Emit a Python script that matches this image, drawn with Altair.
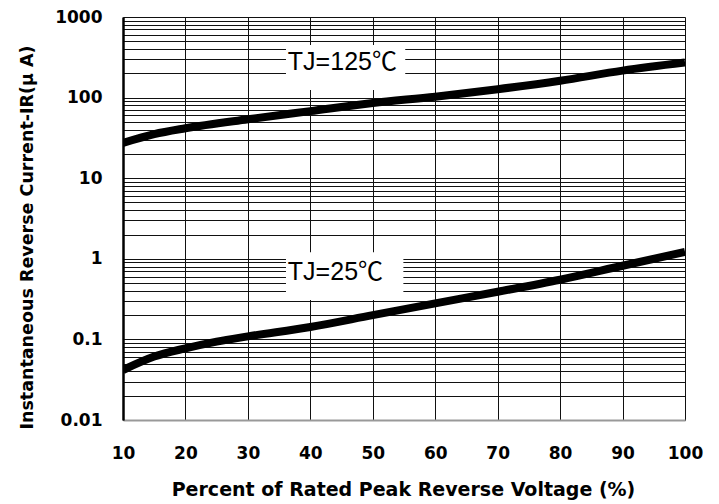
import altair as alt
import pandas as pd

# ---- data ----
volt_125 = [10, 15, 20, 30, 40, 50, 60, 70, 80, 90, 100]
ir_125 = [27.4, 35.2, 41.6, 53.8, 68, 85.7, 102.6, 127, 162, 216, 272]
volt_25 = [10, 15, 20, 25, 30, 40, 50, 60, 70, 80, 90, 100]
ir_25 = [0.0417, 0.0612, 0.0775, 0.094, 0.109, 0.1425, 0.2, 0.28, 0.39, 0.55, 0.82, 1.22]

x_ticks = [10, 20, 30, 40, 50, 60, 70, 80, 90, 100]
decades = [0.01, 0.1, 1, 10, 100]
mults = [1, 2, 3, 4, 5, 6, 7, 8, 9]
y_ticks = [round(d * m, 6) for d in decades for m in mults] + [1000]

labels = ["TJ=125℃", "TJ=25℃"]
label_x = [36.4, 36.4]
label_y = [220, 0.546]
box_x = [36.1, 36.1]
box_x2 = [55.2, 54.9]
box_y = [124, 0.308]
box_y2 = [450, 1.21]

curves = pd.DataFrame({
    "x": volt_125 + volt_25,
    "y": ir_125 + ir_25,
    "s": ["125"] * len(volt_125) + ["25"] * len(volt_25),
})
boxes = pd.DataFrame({"x": box_x, "x2": box_x2, "y": box_y, "y2": box_y2})
texts = pd.DataFrame({"x": label_x, "y": label_y, "t": labels})

BOLD = "DejaVu Sans"

xscale = alt.Scale(domain=[10, 100], nice=False, zero=False)
yscale = alt.Scale(type="log", domain=[0.01, 1000], nice=False)

xaxis = alt.Axis(
    values=x_ticks, grid=True, gridColor="#111", gridWidth=1,
    ticks=False, tickSize=0, domain=True, domainColor="#999", domainWidth=2,
    labelFont=BOLD, labelFontWeight="bold", labelFontSize=17, labelColor="#000",
    labelBaseline="alphabetic", labelPadding=38, labelFlush=False, labelOverlap=False,
    title="Percent of Rated Peak Reverse Voltage (%)",
    titleFont=BOLD, titleFontWeight="bold", titleFontSize=19, titleColor="#000",
    titleX=280, titleY=75, titleBaseline="alphabetic", titleAlign="center",
)
yaxis = alt.Axis(
    values=y_ticks, grid=True, gridColor="#111", gridWidth=1,
    ticks=False, tickSize=0, domain=True, domainColor="#000", domainWidth=2.5,
    labelExpr="indexof([0.01,0.1,1,10,100,1000], datum.value) >= 0 ? format(datum.value, '~g') : ''",
    labelFont=BOLD, labelFontWeight="bold", labelFontSize=17, labelColor="#000",
    labelPadding=21, labelFlush=False, labelOverlap=False, labelBaseline="middle",
    title="Instantaneous Reverse Current-IR(μ A)",
    titleFont=BOLD, titleFontWeight="bold", titleFontSize=17.5, titleColor="#000",
    titleX=-91, titleY=220, titleBaseline="alphabetic", titleAlign="center", titleAngle=270,
)

X = alt.X("x:Q", scale=xscale, axis=xaxis)
Y = alt.Y("y:Q", scale=yscale, axis=yaxis)

lines = alt.Chart(curves).mark_line(
    color="#000", strokeWidth=8, interpolate="monotone", clip=True
).encode(x=X, y=Y, detail="s:N")

rects = alt.Chart(boxes).mark_rect(fill="#fff", stroke=None).encode(
    x=X, x2="x2:Q", y=Y, y2="y2:Q"
)

tx = alt.Chart(texts).mark_text(
    font="Liberation Sans, Noto Sans CJK SC", fontSize=25, color="#000",
    align="left", baseline="alphabetic"
).encode(x=X, y=Y, text="t:N")

chart = alt.layer(rects, lines, tx).properties(
    width=562, height=403,
    autosize=alt.AutoSizeParams(type="none"),
    padding={"left": 115, "top": 9, "right": 26, "bottom": 84},
).configure_view(stroke="#999", strokeWidth=2).configure(background="#fff")

chart.save("out.html", embed_options={"renderer": "svg", "actions": False})
